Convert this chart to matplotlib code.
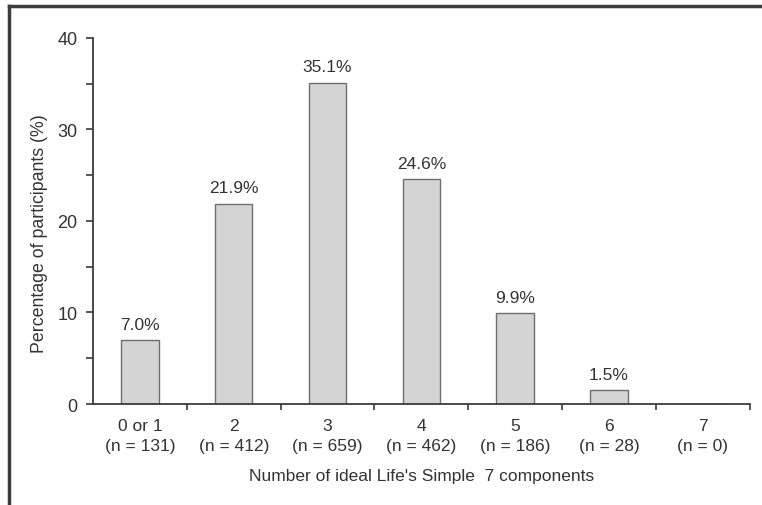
import numpy as np
import matplotlib.pyplot as plt
from matplotlib.lines import Line2D

categories = ["0 or 1", "2", "3", "4", "5", "6", "7"]
counts = [131, 412, 659, 462, 186, 28, 0]
percents = [7.0, 21.9, 35.1, 24.6, 9.9, 1.5, 0.0]

plt.rcParams['font.family'] = ['Liberation Sans', 'DejaVu Sans']
axis_color = "#3a3a3a"
text_color = "#333333"

fig = plt.figure(figsize=(7.62, 5.06), dpi=100)
ax = fig.add_axes([0.122, 0.1996, 0.862, 0.7234])

x = np.arange(len(categories))
ax.bar(x, percents, width=0.4, color="#d4d4d4", edgecolor="#6e6e6e", linewidth=1.0, zorder=2)

for xi, p in zip(x, percents):
    if p > 0:
        ax.annotate(f"{p:.1f}%", (xi, p), xytext=(0, 6), textcoords="offset points",
                    ha="center", va="bottom", fontsize=12.5, color=text_color)

ax.set_xlim(-0.5, 6.5)
ax.set_ylim(0, 40)
ax.set_yticks([0, 10, 20, 30, 40])
ax.set_yticks([5, 15, 25, 35], minor=True)
ax.set_xticks(x)
ax.set_xticklabels([f"{c}\n(n = {n})" for c, n in zip(categories, counts)],
                   fontsize=12.5, color=text_color, linespacing=1.4)
ax.set_xticks(np.arange(0.5, 7.0, 1.0), minor=True)

for s in ["top", "right"]:
    ax.spines[s].set_visible(False)
for s in ["left", "bottom"]:
    ax.spines[s].set_color(axis_color)
    ax.spines[s].set_linewidth(1.3)

ax.tick_params(axis="y", which="both", direction="out", length=5, width=1.2,
               color=axis_color, labelsize=13, labelcolor=text_color, pad=6)
ax.tick_params(axis="x", which="major", length=0, pad=10)
ax.tick_params(axis="x", which="minor", direction="out", length=4, width=1.2, color=axis_color)

ax.set_ylabel("Percentage of participants (%)", fontsize=12.8, color=text_color)
ax.yaxis.set_label_coords(-0.068, 0.467)
ax.set_xlabel("Number of ideal Life's Simple  7 components", fontsize=12.5, color=text_color, labelpad=11)

# frame edges of the original figure box
fig.add_artist(Line2D([0.012, 1.0], [0.986, 0.986], transform=fig.transFigure,
                      color="#3c3c3c", linewidth=2.5))
fig.add_artist(Line2D([0.012, 0.012], [0.0, 0.986], transform=fig.transFigure,
                      color="#3c3c3c", linewidth=2.5))

fig.savefig("out.png", dpi=100)
